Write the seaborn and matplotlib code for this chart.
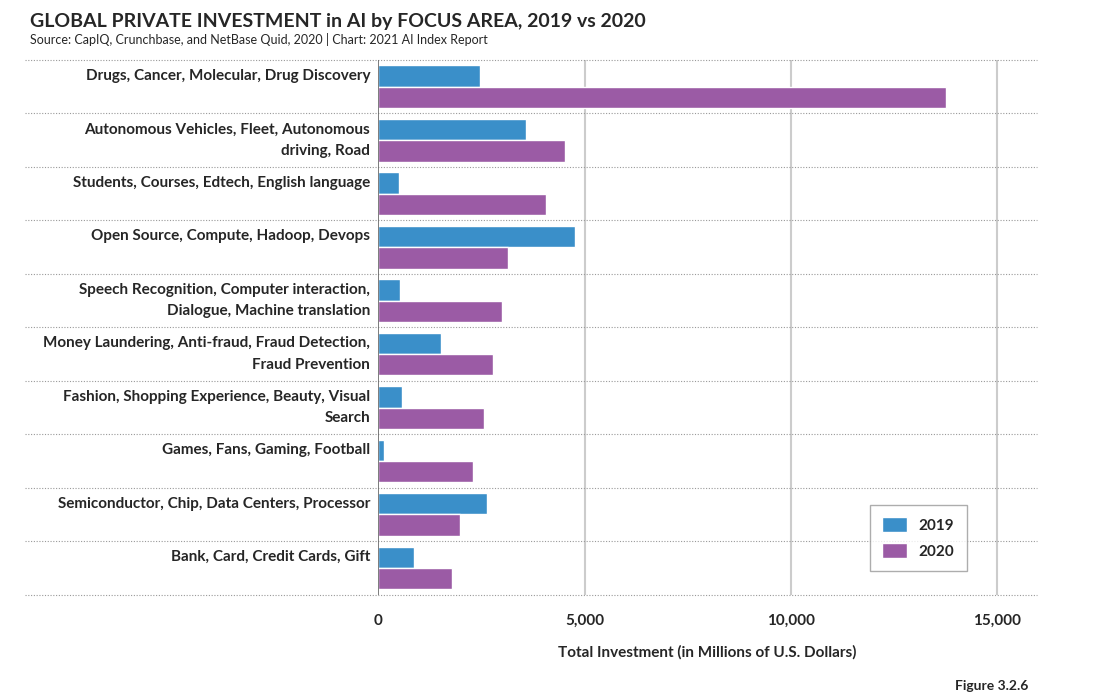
import matplotlib
matplotlib.use("Agg")
import matplotlib.pyplot as plt
import seaborn as sns
import pandas as pd

areas = [
    "Drugs, Cancer, Molecular, Drug Discovery",
    "Autonomous Vehicles, Fleet, Autonomous\ndriving, Road",
    "Students, Courses, Edtech, English language",
    "Open Source, Compute, Hadoop, Devops",
    "Speech Recognition, Computer interaction,\nDialogue, Machine translation",
    "Money Laundering, Anti-fraud, Fraud Detection,\nFraud Prevention",
    "Fashion, Shopping Experience, Beauty, Visual\nSearch",
    "Games, Fans, Gaming, Football",
    "Semiconductor, Chip, Data Centers, Processor",
    "Bank, Card, Credit Cards, Gift",
]
inv_2019 = [2470, 3580, 510, 4770, 530, 1530, 580, 150, 2640, 870]
inv_2020 = [13750, 4530, 4070, 3150, 3000, 2780, 2570, 2300, 1990, 1790]

df = pd.concat([
    pd.DataFrame({"area": areas, "value": inv_2019, "year": "2019"}),
    pd.DataFrame({"area": areas, "value": inv_2020, "year": "2020"}),
])

sns.set_style("white")
plt.rcParams["font.family"] = ["Lato", "DejaVu Sans"]

fig = plt.figure(figsize=(11.09, 6.98), dpi=100)
ax = fig.add_axes([0.341, 0.148, 0.594, 0.766])
sns.barplot(data=df, y="area", x="value", hue="year", orient="h",
            palette={"2019": "#3a8fc9", "2020": "#9b5ba5"},
            width=0.8, saturation=1, ax=ax)

ax.set_xlim(0, 15960)
ax.set_ylim(len(areas) - 0.5, -0.5)
for xv in [5000, 10000, 15000]:
    ax.axvline(xv, color="#cccccc", lw=1.5, zorder=0)
for i in range(len(areas) + 1):
    ax.axhline(i - 0.5, xmin=-0.536, xmax=1, color="#999999", lw=0.8,
               ls=(0, (1, 1.5)), clip_on=False, zorder=0)
ax.axvline(0, color="#666666", lw=1.2)

# category labels: first line beside the 2019 bar, second beside the 2020 bar
ax.set_yticklabels([])
ax.tick_params(axis="y", length=0)
tr = ax.get_yaxis_transform()
for i, name in enumerate(areas):
    for k, line in enumerate(name.split("\n")):
        ax.text(-0.012, i - 0.2 + 0.4 * k, line, transform=tr, ha="right",
                va="center", fontsize=11, fontweight="bold")

ax.set_xticks([0, 5000, 10000, 15000])
ax.set_xticklabels(["0", "5,000", "10,000", "15,000"], fontweight="bold", fontsize=11)
ax.tick_params(axis="x", length=0, pad=14)
ax.set_ylabel("")
ax.set_xlabel("Total Investment (in Millions of U.S. Dollars)", fontweight="bold",
              fontsize=11, labelpad=12)
for s in ax.spines.values():
    s.set_visible(False)

leg = ax.legend(loc="lower right", bbox_to_anchor=(0.905, 0.03), title=None,
                fontsize=11, frameon=True, fancybox=False, edgecolor="#999999",
                borderpad=0.8, handlelength=1.6, handleheight=1.1, labelspacing=0.7)
for t in leg.get_texts():
    t.set_fontweight("bold")

fig.text(0.027, 0.962, "GLOBAL PRIVATE INVESTMENT in AI by FOCUS AREA, 2019 vs 2020",
         fontsize=14, fontweight="bold")
fig.text(0.027, 0.937, "Source: CapIQ, Crunchbase, and NetBase Quid, 2020 | Chart: 2021 AI Index Report",
         fontsize=9)
fig.text(0.927, 0.012, "Figure 3.2.6", fontsize=10, fontweight="bold", ha="right")

fig.savefig("out.png", dpi=100)
